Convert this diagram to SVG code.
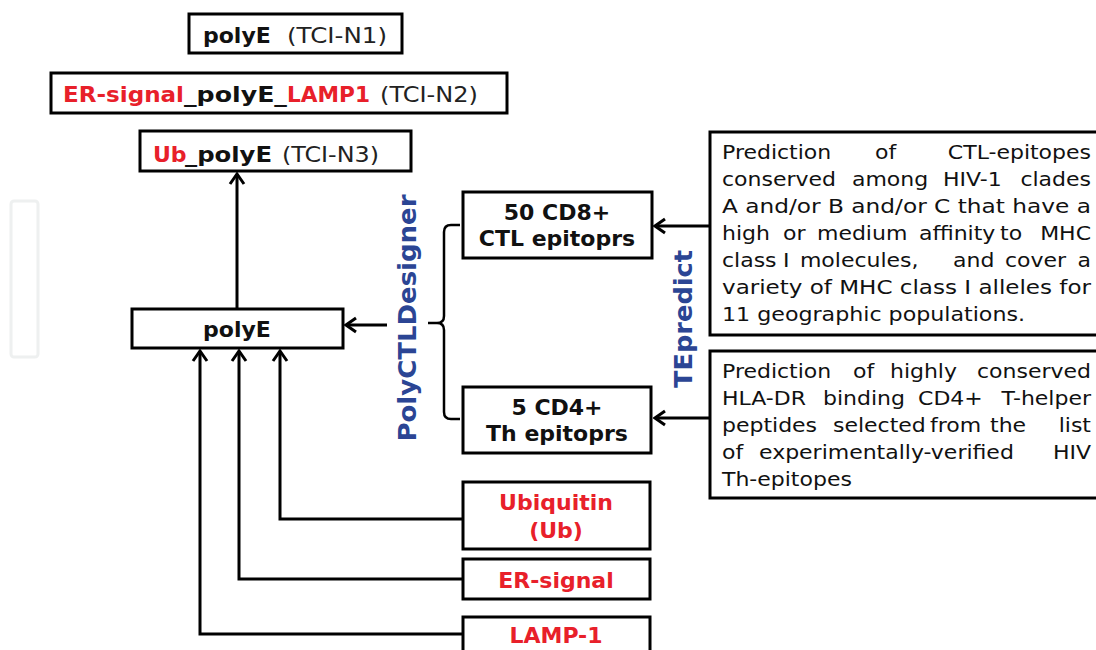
<svg xmlns="http://www.w3.org/2000/svg" width="1096" height="650" viewBox="0 0 1096 650">
<style>
.box{fill:#fff;stroke:#000;stroke-width:3}
.b{font-family:"DejaVu Sans","Verdana",sans-serif;font-weight:bold;font-size:22px;fill:#111}
.r{font-family:"DejaVu Sans","Verdana",sans-serif;font-size:22px;fill:#222}
.red{fill:#E8202A}
.d{font-family:"DejaVu Sans","Verdana",sans-serif;font-size:19.5px;fill:#111}
.v{font-family:"DejaVu Sans","Verdana",sans-serif;font-weight:bold;font-size:24px;fill:#2B4594}
.c{fill:none;stroke:#000;stroke-width:3}
</style>
<defs>
<marker id="ah" viewBox="-14 -10 16 20" refX="0" refY="0" markerWidth="16" markerHeight="20" orient="auto" markerUnits="userSpaceOnUse">
<path d="M-10,-7 L0,0 L-10,7" fill="none" stroke="#000" stroke-width="3"/>
</marker>
</defs>
<rect x="11" y="201" width="27" height="156" rx="3" fill="none" stroke="#EEF0F0" stroke-width="3"/>

<g id="n1">
<rect class="box" x="189" y="14" width="213" height="39"/>
<text y="43"><tspan class="b" x="203">polyE</tspan><tspan class="r" x="287" textLength="100" lengthAdjust="spacingAndGlyphs">(TCI-N1)</tspan></text>
</g>
<g id="n2">
<rect class="box" x="51" y="73" width="456" height="40"/>
<text y="102"><tspan class="b red" x="63" textLength="121" lengthAdjust="spacingAndGlyphs">ER-signal</tspan><tspan class="b" x="184" textLength="103" lengthAdjust="spacingAndGlyphs">_polyE_</tspan><tspan class="b red" x="287" textLength="83" lengthAdjust="spacingAndGlyphs">LAMP1</tspan><tspan class="r" x="380" textLength="98" lengthAdjust="spacingAndGlyphs">(TCI-N2)</tspan></text>
</g>
<g id="n3">
<rect class="box" x="140" y="131" width="271" height="40"/>
<text y="162"><tspan class="b red" x="153">Ub</tspan><tspan class="b" x="185" textLength="87" lengthAdjust="spacingAndGlyphs">_polyE</tspan><tspan class="r" x="282" textLength="97" lengthAdjust="spacingAndGlyphs">(TCI-N3)</tspan></text>
</g>
<g id="polyE">
<rect class="box" x="132" y="309" width="211" height="39"/>
<text class="b" x="237" y="337" text-anchor="middle">polyE</text>
</g>
<g id="cd8">
<rect class="box" x="463" y="192" width="189" height="66"/>
<text class="b" x="557" y="220" text-anchor="middle">50 CD8+</text>
<text class="b" x="557" y="246" text-anchor="middle">CTL epitoprs</text>
</g>
<g id="cd4">
<rect class="box" x="463" y="387" width="188" height="66"/>
<text class="b" x="557" y="415" text-anchor="middle">5 CD4+</text>
<text class="b" x="557" y="441" text-anchor="middle">Th epitoprs</text>
</g>
<g id="ub">
<rect class="box" x="463" y="482" width="187" height="67"/>
<text class="b red" x="556" y="510" text-anchor="middle">Ubiquitin</text>
<text class="b red" x="556" y="538" text-anchor="middle">(Ub)</text>
</g>
<g id="er">
<rect class="box" x="463" y="559" width="187" height="40"/>
<text class="b red" x="556" y="588" text-anchor="middle">ER-signal</text>
</g>
<g id="lamp">
<rect class="box" x="463" y="617" width="187" height="40"/>
<text class="b red" x="556" y="643" text-anchor="middle">LAMP-1</text>
</g>
<g id="desc1">
<rect class="box" x="710" y="132" width="392" height="203"/>
<g transform="matrix(1.128,0,0,1,-92.4,0)">
<text class="d" y="159"><tspan x="722">Prediction</tspan><tspan x="857.6">of</tspan><tspan x="1049.1" text-anchor="end">CTL-epitopes</tspan></text>
<text class="d" y="186"><tspan x="722">conserved</tspan><tspan x="837.2">among</tspan><tspan x="917.9">HIV-1</tspan><tspan x="1049.1" text-anchor="end">clades</tspan></text>
<text class="d" x="722" y="213" textLength="327.1" lengthAdjust="spacingAndGlyphs">A and/or B and/or C that have a</text>
<text class="d" y="240"><tspan x="722">high</tspan><tspan x="776.1">or</tspan><tspan x="806.2">medium</tspan><tspan x="896.6">affinity</tspan><tspan x="968.5">to</tspan><tspan x="1049.1" text-anchor="end">MHC</tspan></text>
<text class="d" y="267"><tspan x="722">class</tspan><tspan x="776.1">I</tspan><tspan x="791.1">molecules,</tspan><tspan x="926.8">and</tspan><tspan x="972.9">cover</tspan><tspan x="1049.1" text-anchor="end">a</tspan></text>
<text class="d" x="722" y="294" textLength="327.1" lengthAdjust="spacingAndGlyphs">variety of MHC class I alleles for</text>
<text class="d" x="722" y="321" textLength="268.6" lengthAdjust="spacingAndGlyphs">11 geographic populations.</text>
</g>
</g>
<g id="desc2">
<rect class="box" x="710" y="351" width="392" height="147"/>
<g transform="matrix(1.128,0,0,1,-92.4,0)">
<text class="d" y="378"><tspan x="722">Prediction</tspan><tspan x="838.1">of</tspan><tspan x="870.9">highly</tspan><tspan x="1049.1" text-anchor="end">conserved</tspan></text>
<text class="d" y="405"><tspan x="722">HLA-DR</tspan><tspan x="811.5">binding</tspan><tspan x="895.8">CD4+</tspan><tspan x="1049.1" text-anchor="end">T-helper</tspan></text>
<text class="d" y="432"><tspan x="722">peptides</tspan><tspan x="820.4">selected</tspan><tspan x="906.4">from</tspan><tspan x="959.6">the</tspan><tspan x="1049.1" text-anchor="end">list</tspan></text>
<text class="d" y="459"><tspan x="722">of</tspan><tspan x="754.8">experimentally-verified</tspan><tspan x="1049.1" text-anchor="end">HIV</tspan></text>
<text class="d" x="722" y="486">Th-epitopes</text>
</g>
</g>
<g id="labels">
<text class="v" transform="translate(416,318) rotate(-90)" text-anchor="middle" textLength="247" lengthAdjust="spacingAndGlyphs">PolyCTLDesigner</text>
<text class="v" transform="translate(692,319) rotate(-90)" text-anchor="middle" textLength="138" lengthAdjust="spacingAndGlyphs">TEpredict</text>
</g>
<g id="connectors">
<path class="c" d="M237,308 V174" marker-end="url(#ah)"/>
<path class="c" d="M387,325 H346" marker-end="url(#ah)"/>
<path class="c" d="M709,226 H655" marker-end="url(#ah)"/>
<path class="c" d="M709,418 H655" marker-end="url(#ah)"/>
<path class="c" d="M463,519 H280 V351" marker-end="url(#ah)"/>
<path class="c" d="M463,579 H239 V351" marker-end="url(#ah)"/>
<path class="c" d="M463,634 H200 V351" marker-end="url(#ah)"/>
<path d="M428,323 H437 Q444,323 444,316 V232 Q444,225 451,225 H460 M437,323 Q444,323 444,330 V412 Q444,419 451,419 H460" fill="none" stroke="#000" stroke-width="2.5"/>
</g>
</svg>
